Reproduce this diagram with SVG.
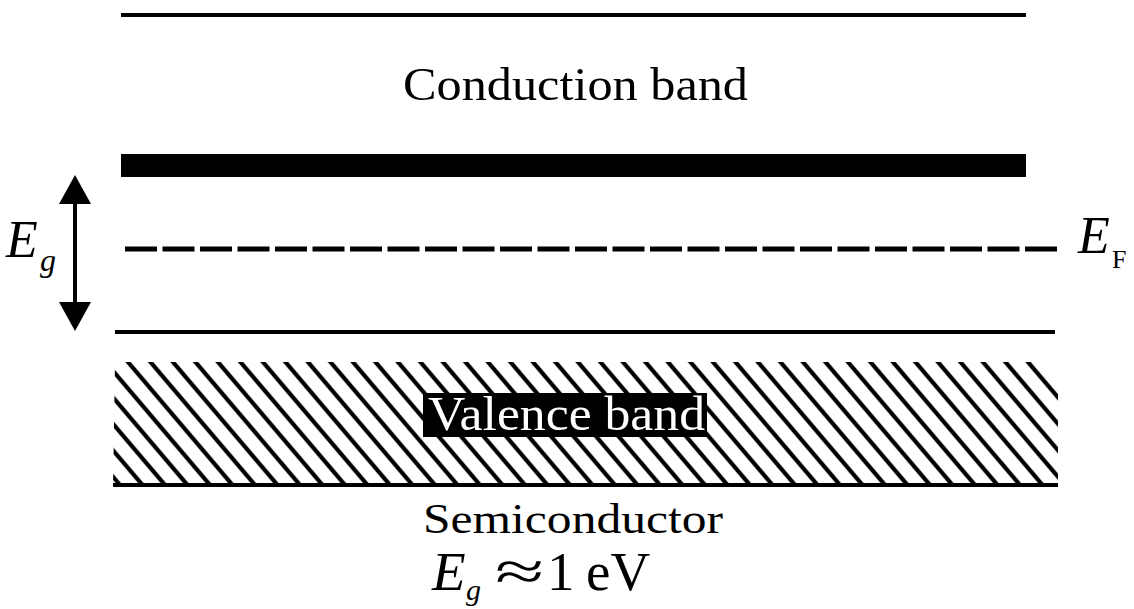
<svg xmlns="http://www.w3.org/2000/svg" width="1134" height="609" viewBox="0 0 1134 609">
<style>
.t{font-family:"Liberation Serif","Times New Roman",serif;fill:#000}
.i{font-style:italic}
.ln{stroke:#000;fill:none}
</style>
<defs>
<pattern id="hatch" patternUnits="userSpaceOnUse" x="-10.95" y="0" width="22.5" height="50" patternTransform="skewX(40.36)">
<rect x="8.5" y="0" width="5.5" height="50" fill="#000"/>
</pattern>
<clipPath id="vclip"><polygon points="115,362 1034,362 1058,390 1058,486 113,486"/></clipPath>
<marker id="ah" viewBox="0 0 29 32" refX="19" refY="16" markerWidth="29" markerHeight="32" markerUnits="userSpaceOnUse" orient="auto-start-reverse">
<path d="M0,0 L29,16 L0,32 z" fill="#000"/>
</marker>
</defs>
<rect width="1134" height="609" fill="#fff"/>
<g id="conduction-band">
<line class="ln" x1="121" y1="15" x2="1026" y2="15" stroke-width="4"/>
<text class="t" x="403" y="100" font-size="46" textLength="345" lengthAdjust="spacingAndGlyphs">Conduction band</text>
<rect x="121" y="154" width="905" height="23" fill="#000"/>
</g>
<g id="fermi-level">
<line class="ln" x1="125" y1="249" x2="1058" y2="249" stroke-width="5" stroke-dasharray="32 5.5"/>
<text class="t i" x="1078" y="253" font-size="52">E</text>
<text class="t" x="1112" y="268" font-size="26">F</text>
</g>
<g id="valence-band">
<line class="ln" x1="115" y1="332" x2="1055" y2="332" stroke-width="4"/>
<rect x="113" y="360" width="947" height="126" fill="url(#hatch)" clip-path="url(#vclip)"/>
<line class="ln" x1="113" y1="485" x2="1058" y2="485" stroke-width="4"/>
<rect x="423" y="393" width="284" height="44" fill="#000"/>
<text class="t" x="428" y="430" font-size="48" textLength="277" lengthAdjust="spacingAndGlyphs" style="fill:#fff">Valence band</text>
</g>
<g id="gap-label">
<text class="t i" x="6" y="257" font-size="52">E</text>
<text class="t i" x="40" y="271" font-size="32">g</text>
</g>
<g id="caption">
<text class="t" x="423" y="533" font-size="43" textLength="300" lengthAdjust="spacingAndGlyphs">Semiconductor</text>
<text class="t i" x="432" y="590" font-size="55">E</text>
<text class="t i" x="466" y="600" font-size="30">g</text>
<text class="t" transform="translate(495,590) scale(1.6,1)" font-size="56">≈</text>
<text class="t" x="547" y="590" font-size="55">1</text>
<text class="t" x="586" y="590" font-size="55">eV</text>
</g>
<g id="connectors">
<line class="ln" x1="75" y1="185" x2="75" y2="321" stroke-width="4" marker-start="url(#ah)" marker-end="url(#ah)"/>
</g>
</svg>
